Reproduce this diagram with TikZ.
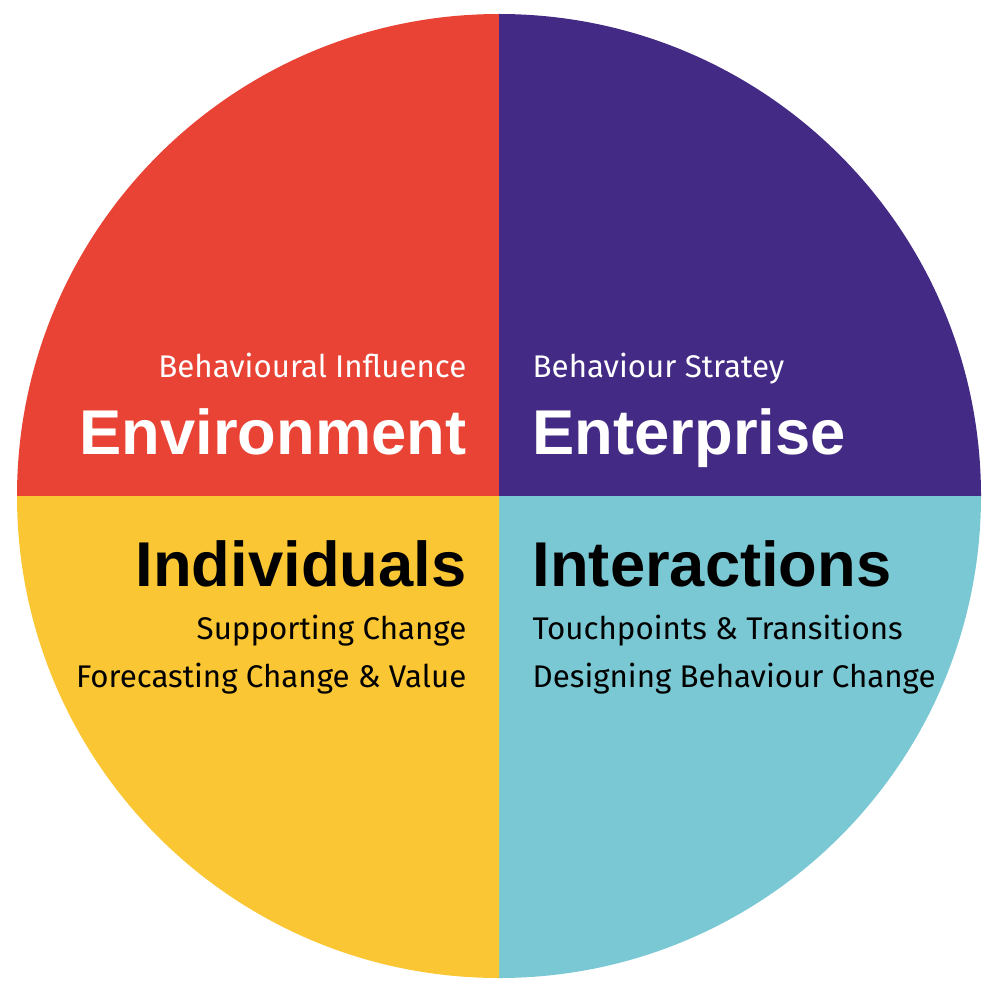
\documentclass[tikz,border=0pt]{standalone}
\usepackage{fontspec}
\setmainfont{Fira Sans}
\newfontfamily\headfont{Liberation Sans}
\definecolor{envred}{HTML}{E84335}
\definecolor{entpurple}{HTML}{432A84}
\definecolor{indyellow}{HTML}{FBC633}
\definecolor{intteal}{HTML}{7AC8D3}
\tikzset{
  quarter/.style={draw=none},
  head/.style={font=\headfont\bfseries\fontsize{18pt}{21pt}\selectfont, inner sep=0pt},
  sub/.style={font=\fontsize{8.9pt}{10pt}\selectfont, inner sep=0pt},
  lefttext/.style={anchor=base east},
  righttext/.style={anchor=base west}
}
\begin{document}
\begin{tikzpicture}[x=0.01cm,y=0.01cm]
  \useasboundingbox (0,0) rectangle (1000,993);
  \coordinate (c) at (499,497);
  % quarters
  \fill[quarter,envred] (c) -- ++(-482,0) arc[start angle=180,end angle=90,radius=482] -- cycle;
  \fill[quarter,entpurple] (c) -- ++(0,482) arc[start angle=90,end angle=0,radius=482] -- cycle;
  \fill[quarter,intteal] (c) -- ++(482,0) arc[start angle=0,end angle=-90,radius=482] -- cycle;
  \fill[quarter,indyellow] (c) -- ++(0,-482) arc[start angle=-90,end angle=-180,radius=482] -- cycle;
  % labels
  \node[sub,lefttext,white] (envsub) at (467,616) {Behavioural Influence};
  \node[head,lefttext,white] (envhead) at (467,539) {Environment};
  \node[sub,righttext,white] (entsub) at (532,616) {Behaviour Stratey};
  \node[head,righttext,white] (enthead) at (532,539) {Enterprise};
  \node[head,lefttext] (indhead) at (467,407) {Individuals};
  \node[sub,lefttext] (indsub1) at (467,354) {Supporting Change};
  \node[sub,lefttext] (indsub2) at (467,306) {Forecasting Change \& Value};
  \node[head,righttext] (inthead) at (532,407) {Interactions};
  \node[sub,righttext] (intsub1) at (532,354) {Touchpoints \& Transitions};
  \node[sub,righttext] (intsub2) at (532,306) {Designing Behaviour Change};
\end{tikzpicture}
\end{document}
